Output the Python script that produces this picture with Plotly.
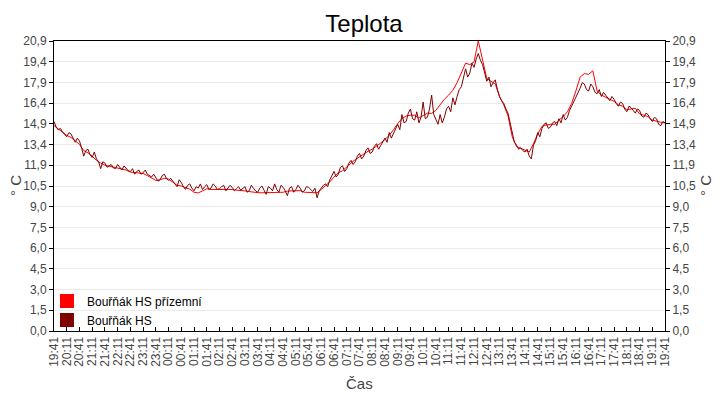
import pandas as pd
import plotly.graph_objects as go

start = "2021-05-20 19:41"

# Bouřňák HS přízemní, 10-minute readings, 19:41 -> 19:41 next day
prizemni = [
    14.8, 14.55, 14.3, 14.1, 13.95, 13.7, 13.45, 13.0, 12.85, 12.6,
    12.3, 12.1, 11.95, 11.88, 11.8, 11.75, 11.68, 11.6, 11.45, 11.4,
    11.38, 11.35, 11.2, 11.05, 10.85, 10.9, 11.0, 10.95, 10.7, 10.5,
    10.45, 10.35, 10.22, 10.0, 9.95, 10.1, 10.25, 10.2, 10.2, 10.2,
    10.25, 10.2, 10.2, 10.15, 10.15, 10.1, 10.05, 10.0, 9.97, 9.96,
    9.96, 9.96, 9.96, 9.97, 10.0, 10.08, 10.1, 10.15, 10.12, 10.0,
    9.98, 9.97, 9.96, 10.2, 10.45, 10.75, 11.1, 11.4, 11.55, 11.85,
    12.1, 12.35, 12.55, 12.8, 12.95, 13.1, 13.3, 13.55, 13.8, 14.1,
    14.5, 14.95, 15.3, 15.5, 15.55, 15.55, 15.35, 15.5, 15.7, 15.68,
    15.9, 16.3, 16.7, 17.0, 17.35, 17.9, 18.6, 19.3, 19.2, 19.4,
    20.9, 19.5, 18.2, 18.0, 17.8, 16.9, 16.3, 15.5, 14.0, 13.3,
    13.15, 13.05, 12.9, 13.5, 14.2, 14.75, 14.85, 14.88, 14.9, 15.2,
    15.45, 15.8, 16.4, 17.3, 18.3, 18.55, 18.5, 18.75, 17.3, 17.0,
    16.85, 16.7, 16.55, 16.3, 16.2, 15.95, 16.0, 16.05, 15.65, 15.55,
    15.45, 15.2, 15.1, 15.05, 15.0,
]

# Bouřňák HS, 5-minute readings, same period
hs = [
    15.1, 14.7, 14.5, 14.6, 14.35, 14.2, 14.0, 14.3, 14.2, 13.9,
    13.6, 13.9, 13.7, 13.2, 12.6, 13.0, 13.1, 12.7, 12.5, 12.9,
    12.4, 12.2, 11.7, 12.2, 12.1, 11.8, 11.9, 12.0, 11.75, 11.7,
    12.0, 11.8, 11.6, 11.9, 11.75, 11.55, 11.5, 11.7, 11.3, 11.5,
    11.6, 11.3, 11.4, 11.6, 11.3, 11.2, 11.1, 11.3, 11.05, 10.8,
    10.9, 11.2, 11.3, 11.0, 10.85, 11.0, 10.8, 10.6, 10.4, 10.9,
    10.7, 10.4, 10.2, 10.5, 10.6, 10.3, 10.1, 10.4, 10.3, 10.6,
    10.2, 10.4, 10.55, 10.2, 10.3, 10.6, 10.45, 10.2, 10.25, 10.4,
    10.5, 10.1, 10.3, 10.5, 10.35, 10.1, 10.25, 10.4, 10.15, 10.3,
    10.4, 10.0, 10.1, 10.5, 10.3, 10.1, 10.0, 10.3, 10.45, 10.2,
    9.85, 10.4, 10.3, 10.1, 10.6, 10.2, 10.0, 10.5, 10.35, 10.1,
    9.75, 10.3, 10.4, 10.0, 10.2, 10.5, 10.3, 10.0, 10.1, 10.4,
    10.35, 10.2, 10.05, 10.3, 9.6, 10.1, 10.3, 10.5, 10.6, 10.4,
    10.9, 11.2, 11.5, 11.1, 11.3, 11.8, 11.9, 11.5, 11.7, 12.1,
    12.3, 12.0, 12.2, 12.6, 12.8, 12.4, 12.6, 13.0, 13.2, 12.8,
    12.9, 13.3, 13.5, 13.1, 13.4, 13.7, 13.9, 13.6, 14.3, 13.9,
    14.2, 14.6, 14.9, 14.5, 15.6, 15.0, 15.1, 15.7, 16.0, 15.3,
    15.2, 15.8, 15.0, 15.4, 16.5, 15.3, 15.4, 16.0, 17.0, 15.6,
    15.2, 14.9, 15.6, 15.0, 15.4, 16.0, 16.2, 15.8, 16.8, 16.3,
    16.9, 17.4, 17.6, 18.2, 18.9, 18.3, 18.6, 19.3, 19.0, 19.6,
    20.0, 19.5, 19.2, 18.6, 18.0, 18.3, 17.6, 17.9, 18.1, 17.4,
    16.9, 16.6, 16.4, 16.0, 15.7, 15.0, 14.2, 13.6, 13.4, 13.1,
    13.2, 13.0, 12.9, 13.1, 12.6, 12.4, 13.4, 13.7, 14.3, 14.0,
    14.6, 14.9, 15.0, 14.6, 14.7, 15.0, 15.1, 14.8, 15.3, 15.0,
    15.6, 15.2, 15.4, 15.9, 16.2, 16.5, 16.8, 17.2, 17.5, 17.9,
    17.8, 17.4, 17.3, 17.8, 17.6, 17.2, 17.1, 17.4, 16.9, 17.2,
    17.0, 16.8, 16.6, 16.9, 16.7, 16.4, 16.2, 16.5, 16.4, 16.0,
    15.8, 16.2, 16.1, 15.9, 15.7, 16.0, 15.9, 15.5, 15.4, 15.7,
    15.6, 15.3, 15.1, 15.4, 15.3, 14.9, 14.8, 15.1, 15.0,
]

y_max = 20.9
y_ticktext = ['0,0', '1,5', '3,0', '4,5', '6,0', '7,5', '9,0', '10,5',
              '11,9', '13,4', '14,9', '16,4', '17,9', '19,4', '20,9']
y_tickvals = [y_max * i / 14 for i in range(15)]

t_prizemni = pd.date_range(start, periods=len(prizemni), freq='10min')
t_hs = pd.date_range(start, periods=len(hs), freq='5min')

RED = '#ff0000'
DARK = '#800000'
GREY = '#454545'
FONT = 'Liberation Sans, Arial, sans-serif'

fig = go.Figure()
fig.add_trace(go.Scatter(x=t_prizemni, y=prizemni, mode='lines',
                         line={'color': RED, 'width': 1}, showlegend=False))
fig.add_trace(go.Scatter(x=t_hs, y=hs, mode='lines',
                         line={'color': DARK, 'width': 1}, showlegend=False))
# legend entries drawn as squares
fig.add_trace(go.Scatter(x=[None], y=[None], mode='markers', name='Bouřňák HS přízemní',
                         marker={'symbol': 'square', 'size': 14, 'color': RED}))
fig.add_trace(go.Scatter(x=[None], y=[None], mode='markers', name='Bouřňák HS', yaxis='y2',
                         marker={'symbol': 'square', 'size': 14, 'color': DARK}))

yaxis_common = dict(
    range=[0, y_max], tickvals=y_tickvals, ticktext=y_ticktext,
    ticks='outside', ticklen=4, tickcolor='black',
    showline=True, linecolor='black', linewidth=1,
    tickfont={'size': 12, 'color': GREY},
    zeroline=False, automargin=False,
)

title_font = {'size': 15, 'color': GREY}

# the page body adds an 8px offset, so the figure is 8px smaller than the window
fig.update_layout(
    width=712, height=392,
    margin={'l': 46, 'r': 55, 't': 33, 'b': 69},
    paper_bgcolor='white', plot_bgcolor='white',
    font={'family': FONT},
    title={'text': 'Teplota', 'x': 0.5, 'xanchor': 'center', 'y': 0.96, 'yanchor': 'middle',
           'font': {'size': 24, 'color': 'black'}},
    xaxis=dict(
        range=[t_prizemni[0], t_prizemni[-1]], tick0=t_prizemni[0], dtick=30 * 60 * 1000,
        tickformat='%H:%M', tickangle=-90, ticks='inside', ticklen=4, tickcolor='black',
        showline=True, linecolor='black', linewidth=1, mirror=True, showgrid=False,
        tickfont={'size': 12, 'color': GREY}, automargin=False,
    ),
    yaxis=dict(showgrid=True, gridcolor='#ebebeb', gridwidth=1, **yaxis_common),
    yaxis2=dict(overlaying='y', side='right', showgrid=False, **yaxis_common),
    legend={'x': -0.0115, 'y': -0.012, 'xanchor': 'left', 'yanchor': 'bottom',
            'bgcolor': 'rgba(0,0,0,0)', 'font': {'size': 12, 'color': 'black'},
            'tracegroupgap': 0},
    annotations=[
        dict(text='Čas', xref='paper', yref='paper', x=0.5, y=0, yshift=-52,
             showarrow=False, font=title_font, xanchor='center', yanchor='middle'),
        dict(text='° C', xref='paper', yref='paper', x=0, y=0.5, xshift=-39,
             showarrow=False, font=title_font, textangle=-90, xanchor='center', yanchor='middle'),
        dict(text='° C', xref='paper', yref='paper', x=1, y=0.5, xshift=40,
             showarrow=False, font=title_font, textangle=-90, xanchor='center', yanchor='middle'),
    ],
)

fig.write_html("out.html")
